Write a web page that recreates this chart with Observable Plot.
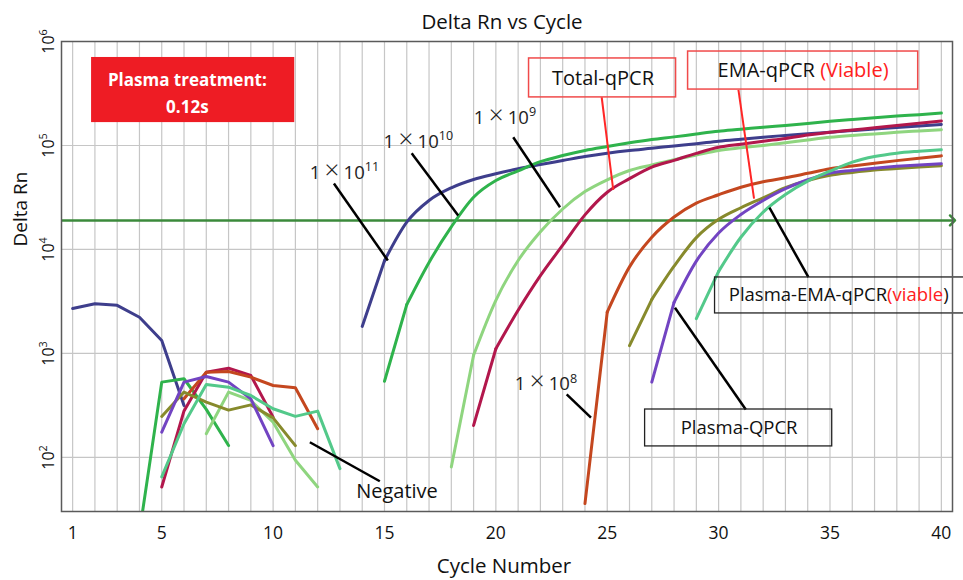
<!DOCTYPE html>
<html><head><meta charset="utf-8">
<script src="https://cdn.jsdelivr.net/npm/d3@7"></script>
<script src="https://cdn.jsdelivr.net/npm/@observablehq/plot@0.6"></script>
<style>body{margin:0;background:#fff;} svg{display:block;}</style>
</head><body><div id="chart"></div>
<script>
// ---------- data ----------
const cycles = [1,2,3,4,5,6,7,8,9,10,11,12,13,14,15,16,17,18,19,20,21,22,23,24,25,26,27,28,29,30,31,32,33,34,35,36,37,38,39,40];
const xTicks = [1,5,10,15,20,25,30,35,40];
const yTicks = [1e2,1e3,1e4,1e5,1e6];
const yGrid = [1e2,1e3,1e4,1e5];
const threshold = 19000;

const navy1e11 = [2710,3000,2900,2230,1330,316,null,null,null,null,null,null,null,1820,7800,18300,29600,39200,47100,53400,59700,65600,71700,78400,84300,89500,94000,99000,104000,110000,115000,120000,125000,130000,134000,139000,144000,149000,154000,159000];
const green1e10 = [null,null,null,19,530,571,290,130,null,null,null,null,null,null,540,2950,7500,16500,31800,46000,57000,70000,80000,89600,97700,106000,114000,121000,129000,137000,143000,150000,156000,163000,171000,178000,185000,192000,198000,205000];
const lightGreen1e9 = [null,null,null,null,null,null,169,425,353,218,94,52,null,null,null,null,null,81,960,3240,7830,14800,24500,36000,46800,57500,65000,73000,81000,89600,95000,100000,106000,113000,120000,125000,129000,134000,138000,142000];
const crimsonTotal = [null,null,null,null,52,280,660,722,614,244,null,null,null,null,null,null,null,null,203,1110,2600,5600,11000,21500,35500,48000,62000,72000,84000,96000,103000,110000,117000,126000,134000,141000,148000,156000,164000,172000];
const orange1e8 = [null,null,null,null,null,366,660,670,592,492,468,189,null,null,null,null,null,null,null,null,null,null,null,36,2500,6800,13100,20500,27900,33600,39700,44800,48900,54000,59700,63500,67500,71500,75500,79500];
const oliveEMA = [null,null,null,null,248,425,340,285,320,240,130,null,null,null,null,null,null,null,null,null,null,null,null,null,null,1190,3300,6900,13000,19500,25200,31400,39200,46000,51600,55000,58000,60000,62000,64000];
const purplePlasma = [null,null,null,null,175,530,600,530,366,130,null,null,null,null,null,null,null,null,null,null,null,null,null,null,null,null,530,3100,7730,14400,21700,29600,38400,46800,54200,57500,60500,63000,65000,66700];
const tealPlasmaEMA = [null,null,null,null,65,211,503,474,394,294,248,279,78,null,null,null,null,null,null,null,null,null,null,null,null,null,null,null,2160,6150,13100,22900,33800,45400,56600,69200,78400,84400,88000,91000];

const seriesNames = ["1×10^11","1×10^10","1×10^9","Total-qPCR","1×10^8","EMA-qPCR","Plasma-QPCR","Plasma-EMA-qPCR"];
const seriesValues = [navy1e11, green1e10, lightGreen1e9, crimsonTotal, orange1e8, oliveEMA, purplePlasma, tealPlasmaEMA];
const seriesColors = ["#3e3e8c","#2fb34c","#8fd57f","#b2174c","#c4471f","#878a2c","#7244c2","#53c98a"];

// annotation labels (data coordinates)
const plainLabels = [
  {text: "1[x]10^{11}", cycle: 13.2, value: 54500},
  {text: "1[x]10^{10}", cycle: 16.52, value: 109000},
  {text: "1[x]10^{9}", cycle: 20.41, value: 184000},
  {text: "1[x]10^{8}", cycle: 22.25, value: 504}
];
const negativeLabel = [{text: "Negative", cycle: 15.56, value: 47}];
const redBoxes = [
  {text: "Total-qPCR", cycle: 24.81, value: 440000, c1: 21.49, c2: 28.09, v1: 290000, v2: 687000},
  {text: "EMA-qPCR [r](Viable)[/r]", cycle: 33.79, value: 526000, c1: 28.63, c2: 38.96, v1: 345000, v2: 801000}
];
const blackBoxes = [
  {text: "Plasma-EMA-qPCR[r](viable[/r])", cycle: 35.39, value: 3615, c1: 29.84, c2: 41.2, v1: 2425, v2: 5380},
  {text: "Plasma-QPCR", cycle: 30.92, value: 190, c1: 26.7, c2: 35.1, v1: 127.6, v2: 289}
];
const treatmentBox = [{text: "Plasma treatment:\n0.12s", cycle: 6.15, value: 334000, c1: 1.85, c2: 10.97, v1: 166000, v2: 702000}];
const blackLeaders = [
  {c1: 12.73, v1: 43150, c2: 15.15, v2: 7830},
  {c1: 16.22, v1: 84300, c2: 18.31, v2: 21240},
  {c1: 20.78, v1: 120000, c2: 22.88, v2: 25500},
  {c1: 32.28, v1: 25200, c2: 34.03, v2: 5420},
  {c1: 28.04, v1: 2750, c2: 31.22, v2: 289},
  {c1: 23.18, v1: 404, c2: 24.27, v2: 241},
  {c1: 11.65, v1: 140, c2: 14.79, v2: 59}
];
const redLeaders = [
  {c1: 24.75, v1: 291000, c2: 25.27, v2: 37500},
  {c1: 30.89, v1: 343000, c2: 31.59, v2: 30800}
];

const xDomain = [0.5, 40.5];
const yDomain = [Math.pow(10, 1.48), 1e6];

// ---------- build ----------
const rows = seriesNames.flatMap((name, i) =>
  cycles.map((c, j) => ({series: name, cycle: c, value: seriesValues[i][j]})));

// the amplification run of each series bends at its second point:
// draw up to that point with straight segments, the rest smoothed
const kinkBySeries = new Map(seriesNames.map((name, i) => {
  const vals = seriesValues[i];
  let start = vals.length - 1;
  while (start > 0 && vals[start - 1] != null) start--;
  return [name, cycles[start + 1]];
}));
const rowsStraight = rows.filter(r => r.cycle <= kinkBySeries.get(r.series));
const rowsSmooth = rows.filter(r => r.cycle >= kinkBySeries.get(r.series));

const FONT = "'Open Sans', 'DejaVu Sans', sans-serif";
const lineStyle = {x: "cycle", y: d => d.value ?? NaN, z: "series", stroke: "series", strokeWidth: 3, strokeLinejoin: "round", strokeLinecap: "round", clip: true};

const chart = Plot.plot({
  width: 963, height: 580,
  marginTop: 41, marginBottom: 69, marginLeft: 61, marginRight: 11,
  style: {fontFamily: FONT, background: "#fff", color: "#111"},
  x: {domain: xDomain},
  y: {type: "log", domain: yDomain, axis: null},
  color: {domain: seriesNames, range: seriesColors},
  marks: [
    Plot.gridX({ticks: cycles, stroke: "#c6c6c6", strokeOpacity: 1, strokeWidth: 1.2}),
    Plot.gridY({ticks: yGrid, stroke: "#c6c6c6", strokeOpacity: 1, strokeWidth: 1.2}),
    Plot.rect(treatmentBox, {x1: "c1", x2: "c2", y1: "v1", y2: "v2", fill: "#ee1c24"}),
    Plot.text(treatmentBox, {x: "cycle", y: "value", text: "text", fill: "#fff", fontWeight: "bold", fontSize: 17, lineHeight: 1.6, lineAnchor: "middle"}),
    Plot.link([threshold], {x1: () => xDomain[0], x2: () => xDomain[1], y1: d => d, y2: d => d, stroke: "#3b8a3b", strokeWidth: 2.5, markerEnd: "arrow"}),
    Plot.line(rowsStraight, {...lineStyle, curve: "linear"}),
    Plot.line(rowsSmooth, {...lineStyle, curve: "monotone-x"}),
    Plot.link(blackLeaders, {x1: "c1", y1: "v1", x2: "c2", y2: "v2", stroke: "#000", strokeWidth: 2.5}),
    Plot.link(redLeaders, {x1: "c1", y1: "v1", x2: "c2", y2: "v2", stroke: "#ff2626", strokeWidth: 2}),
    Plot.rect(redBoxes, {x1: "c1", x2: "c2", y1: "v1", y2: "v2", fill: "none", stroke: "#f04a4a", strokeWidth: 1.5}),
    Plot.rect(blackBoxes, {x1: "c1", x2: "c2", y1: "v1", y2: "v2", fill: "none", stroke: "#222", strokeWidth: 1.3}),
    Plot.text(redBoxes, {x: "cycle", y: "value", text: "text", fontSize: 20, fill: "#111", lineAnchor: "middle"}),
    Plot.text(blackBoxes, {x: "cycle", y: "value", text: "text", fontSize: 18.5, fill: "#111", lineAnchor: "middle"}),
    Plot.text(plainLabels, {x: "cycle", y: "value", text: "text", fontSize: 18.5, fill: "#222", lineAnchor: "middle"}),
    Plot.text(negativeLabel, {x: "cycle", y: "value", text: "text", fontSize: 20, fill: "#111", lineAnchor: "middle"}),
    Plot.frame({stroke: "#5a5a5a", strokeWidth: 1.5}),
    Plot.axisX({ticks: xTicks, tickSize: 0, tickPadding: 15, fontSize: 17.5, label: null}),
    Plot.text(yTicks, {y: d => d, frameAnchor: "left", dx: -8, rotate: -90, text: d => `10^{${Math.round(Math.log10(d))}}`, textAnchor: "middle", lineAnchor: "bottom", fontSize: 16, fill: "#111"}),
    Plot.text(["Delta Rn vs Cycle"], {frameAnchor: "top", dx: -5, dy: -19, lineAnchor: "middle", fontSize: 20.5, fill: "#111"}),
    Plot.text(["Delta Rn"], {frameAnchor: "left", dx: -41, dy: -30, rotate: -90, lineAnchor: "middle", fontSize: 19, fill: "#111"}),
    Plot.text(["Cycle Number"], {frameAnchor: "bottom", dx: -3, dy: 55, lineAnchor: "middle", fontSize: 20.5, fill: "#111"})
  ]
});

// ---------- rich text (superscripts, coloured runs, wide ×) ----------
const NS = "http://www.w3.org/2000/svg";
chart.querySelectorAll("text").forEach(el => {
  const s = el.textContent;
  if (!/\^\{|\[r\]|\[x\]/.test(s) || el.querySelector("tspan")) return;
  const parts = s.split(/(\^\{[^}]*\}|\[r\][^\[]*\[\/r\]|\[x\])/).filter(p => p !== "");
  while (el.firstChild) el.removeChild(el.firstChild);
  let raised = false;
  for (const p of parts) {
    const ts = document.createElementNS(NS, "tspan");
    if (p.startsWith("^{")) {
      ts.textContent = p.slice(2, -1);
      ts.setAttribute("font-size", "68%");
      ts.setAttribute("dy", "-0.6em");
      raised = true;
    } else {
      if (p.startsWith("[r]")) { ts.textContent = p.slice(3, -4); ts.setAttribute("fill", "#ff2020"); }
      else if (p === "[x]") { ts.textContent = "\u2009×\u2009"; ts.setAttribute("font-size", "140%"); ts.setAttribute("font-weight", "300"); }
      else ts.textContent = p;
      if (raised) { ts.setAttribute("dy", "0.41em"); raised = false; }
    }
    el.appendChild(ts);
  }
});

document.getElementById("chart").appendChild(chart);
</script>
</body></html>
